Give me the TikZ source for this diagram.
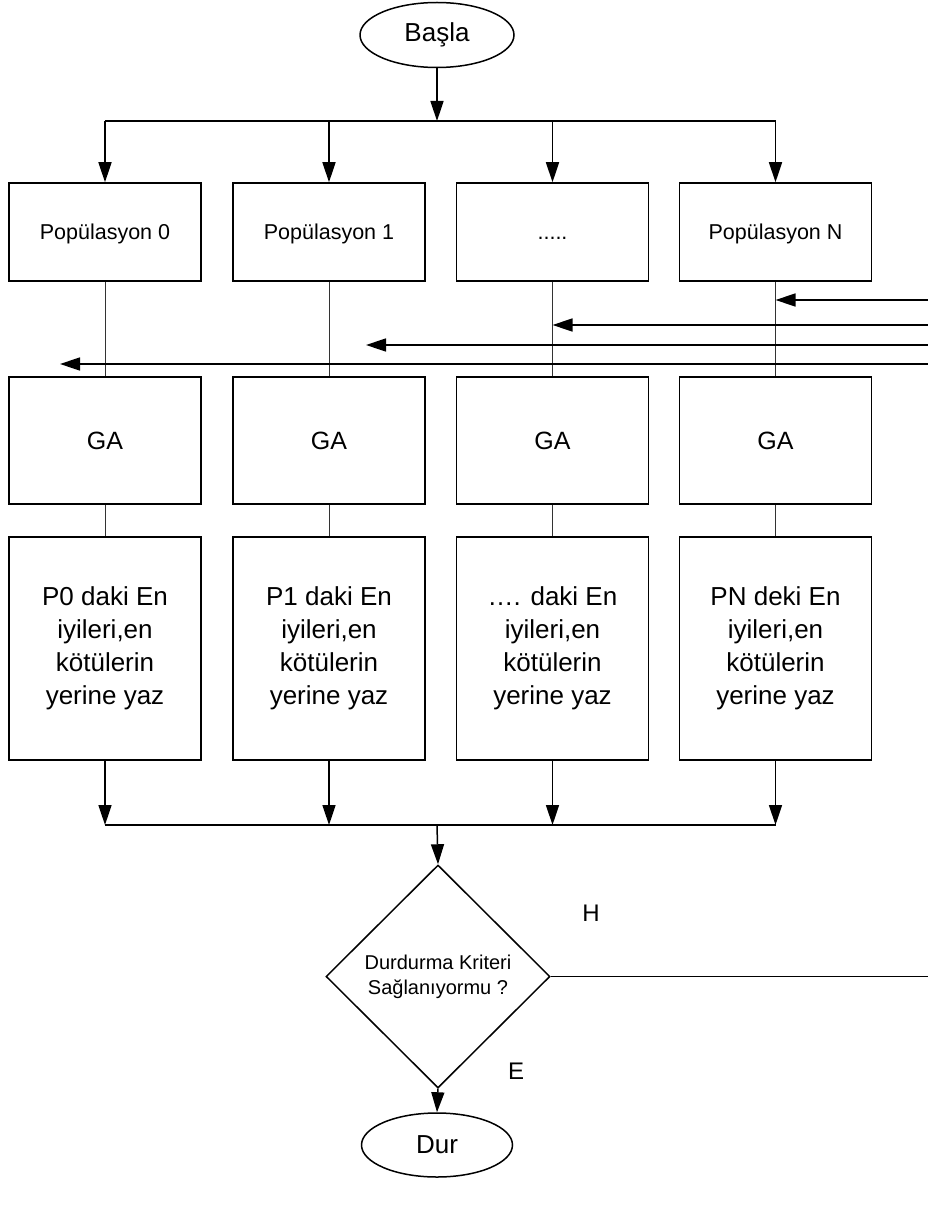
\documentclass[tikz,border=0pt]{standalone}
\usepackage{fontspec}
\setmainfont{Liberation Sans}
\usetikzlibrary{arrows.meta,shapes.geometric}

\begin{document}
\begin{tikzpicture}[x=1pt,y=-1pt,
  mainline/.style={line width=1.5pt},
  linkline/.style={line width=1pt, black!80},
  flowarrow/.style={line width=1.5pt, -{Triangle[length=20pt,width=13pt]}},
  terminal/.style={draw, ellipse, line width=1.5pt, inner sep=0pt,
    font=\fontsize{26}{30}\selectfont},
  popbox/.style={draw, rectangle, line width=1.5pt, inner sep=0pt,
    minimum width=192pt, minimum height=98pt,
    text height=15.5pt, text depth=0pt,
    font=\fontsize{21.5}{26}\selectfont},
  gabox/.style={draw, rectangle, line width=1.5pt, inner sep=0pt,
    minimum width=192pt, minimum height=127pt,
    font=\fontsize{25}{30}\selectfont},
  tallbox/.style={draw, rectangle, line width=1.5pt, inner sep=0pt,
    minimum width=192pt, minimum height=223pt, align=center,
    font=\fontsize{26}{33}\selectfont},
  decision/.style={draw, diamond, line width=1.5pt, inner sep=0pt, aspect=1,
    minimum width=224pt, minimum height=223pt, align=center,
    font=\fontsize{20}{25}\selectfont},
  answer/.style={inner sep=0pt, font=\fontsize{24}{28}\selectfont}
]
\useasboundingbox (0,0) rectangle (928,1209);

% start and stop
\node[terminal, minimum width=154pt, minimum height=65pt] (start) at (437,35) {Başla};
\node[terminal, minimum width=151pt, minimum height=64pt] (stop) at (437,1145) {Dur};

% populations
\node[popbox] (p0) at (105,232) {Popülasyon 0};
\node[popbox] (p1) at (329,232) {Popülasyon 1};
\node[popbox] (p2) at (552.5,232) {.....};
\node[popbox] (p3) at (775.5,232) {Popülasyon N};

% GA blocks
\node[gabox] (g0) at (105,440.5) {GA};
\node[gabox] (g1) at (329,440.5) {GA};
\node[gabox] (g2) at (552.5,440.5) {GA};
\node[gabox] (g3) at (775.5,440.5) {GA};

% replacement blocks
\node[tallbox] (r0) at (105,648.5) {P0 daki En\\iyileri,en\\kötülerin\\yerine yaz};
\node[tallbox] (r1) at (329,648.5) {P1 daki En\\iyileri,en\\kötülerin\\yerine yaz};
\node[tallbox] (r2) at (552.5,648.5) {…. daki En\\iyileri,en\\kötülerin\\yerine yaz};
\node[tallbox] (r3) at (775.5,648.5) {PN deki En\\iyileri,en\\kötülerin\\yerine yaz};

% stopping criterion
\node[decision] (dec) at (438,976.5) {Durdurma Kriteri\\Sağlanıyormu ?};
\node[answer] (yes) at (591,913) {H};
\node[answer] (no) at (516,1071) {E};

% distribution bus
\coordinate (split) at (437,121);
\draw[flowarrow] (start) -- (split);
\draw[mainline] (p0.north |- split) -- (p3.north |- split);
\foreach \i in {0,1,2,3} {
  \draw[flowarrow] (p\i.north |- split) -- (p\i.north);
  \draw[linkline] (p\i.south) -- (g\i.north);
  \draw[linkline] (g\i.south) -- (r\i.north);
}

% collection bus
\coordinate (join) at (437,825);
\foreach \i in {0,1,2,3} {
  \draw[flowarrow] (r\i.south) -- (r\i.south |- join);
}
\draw[mainline] (r0.south |- join) -- (r3.south |- join);
\draw[flowarrow] (join) -- (dec.north);
\draw[flowarrow] (dec.south) -- (stop.north);

% loop back
\coordinate (edge) at (928,976.5);
\draw[mainline] (dec.east) -- (edge);

\coordinate (fbin0) at (928,300);
\coordinate (fbin1) at (928,325);
\coordinate (fbin2) at (928,345);
\coordinate (fbin3) at (928,364);
\coordinate (fbend2) at (366,345);
\coordinate (fbend3) at (60,364);
\draw[flowarrow] (fbin0) -- (fbin0 -| p3.south);
\draw[flowarrow] (fbin1) -- (fbin1 -| p2.south);
\draw[flowarrow] (fbin2) -- (fbend2);
\draw[flowarrow] (fbin3) -- (fbend3);
\end{tikzpicture}
\end{document}
